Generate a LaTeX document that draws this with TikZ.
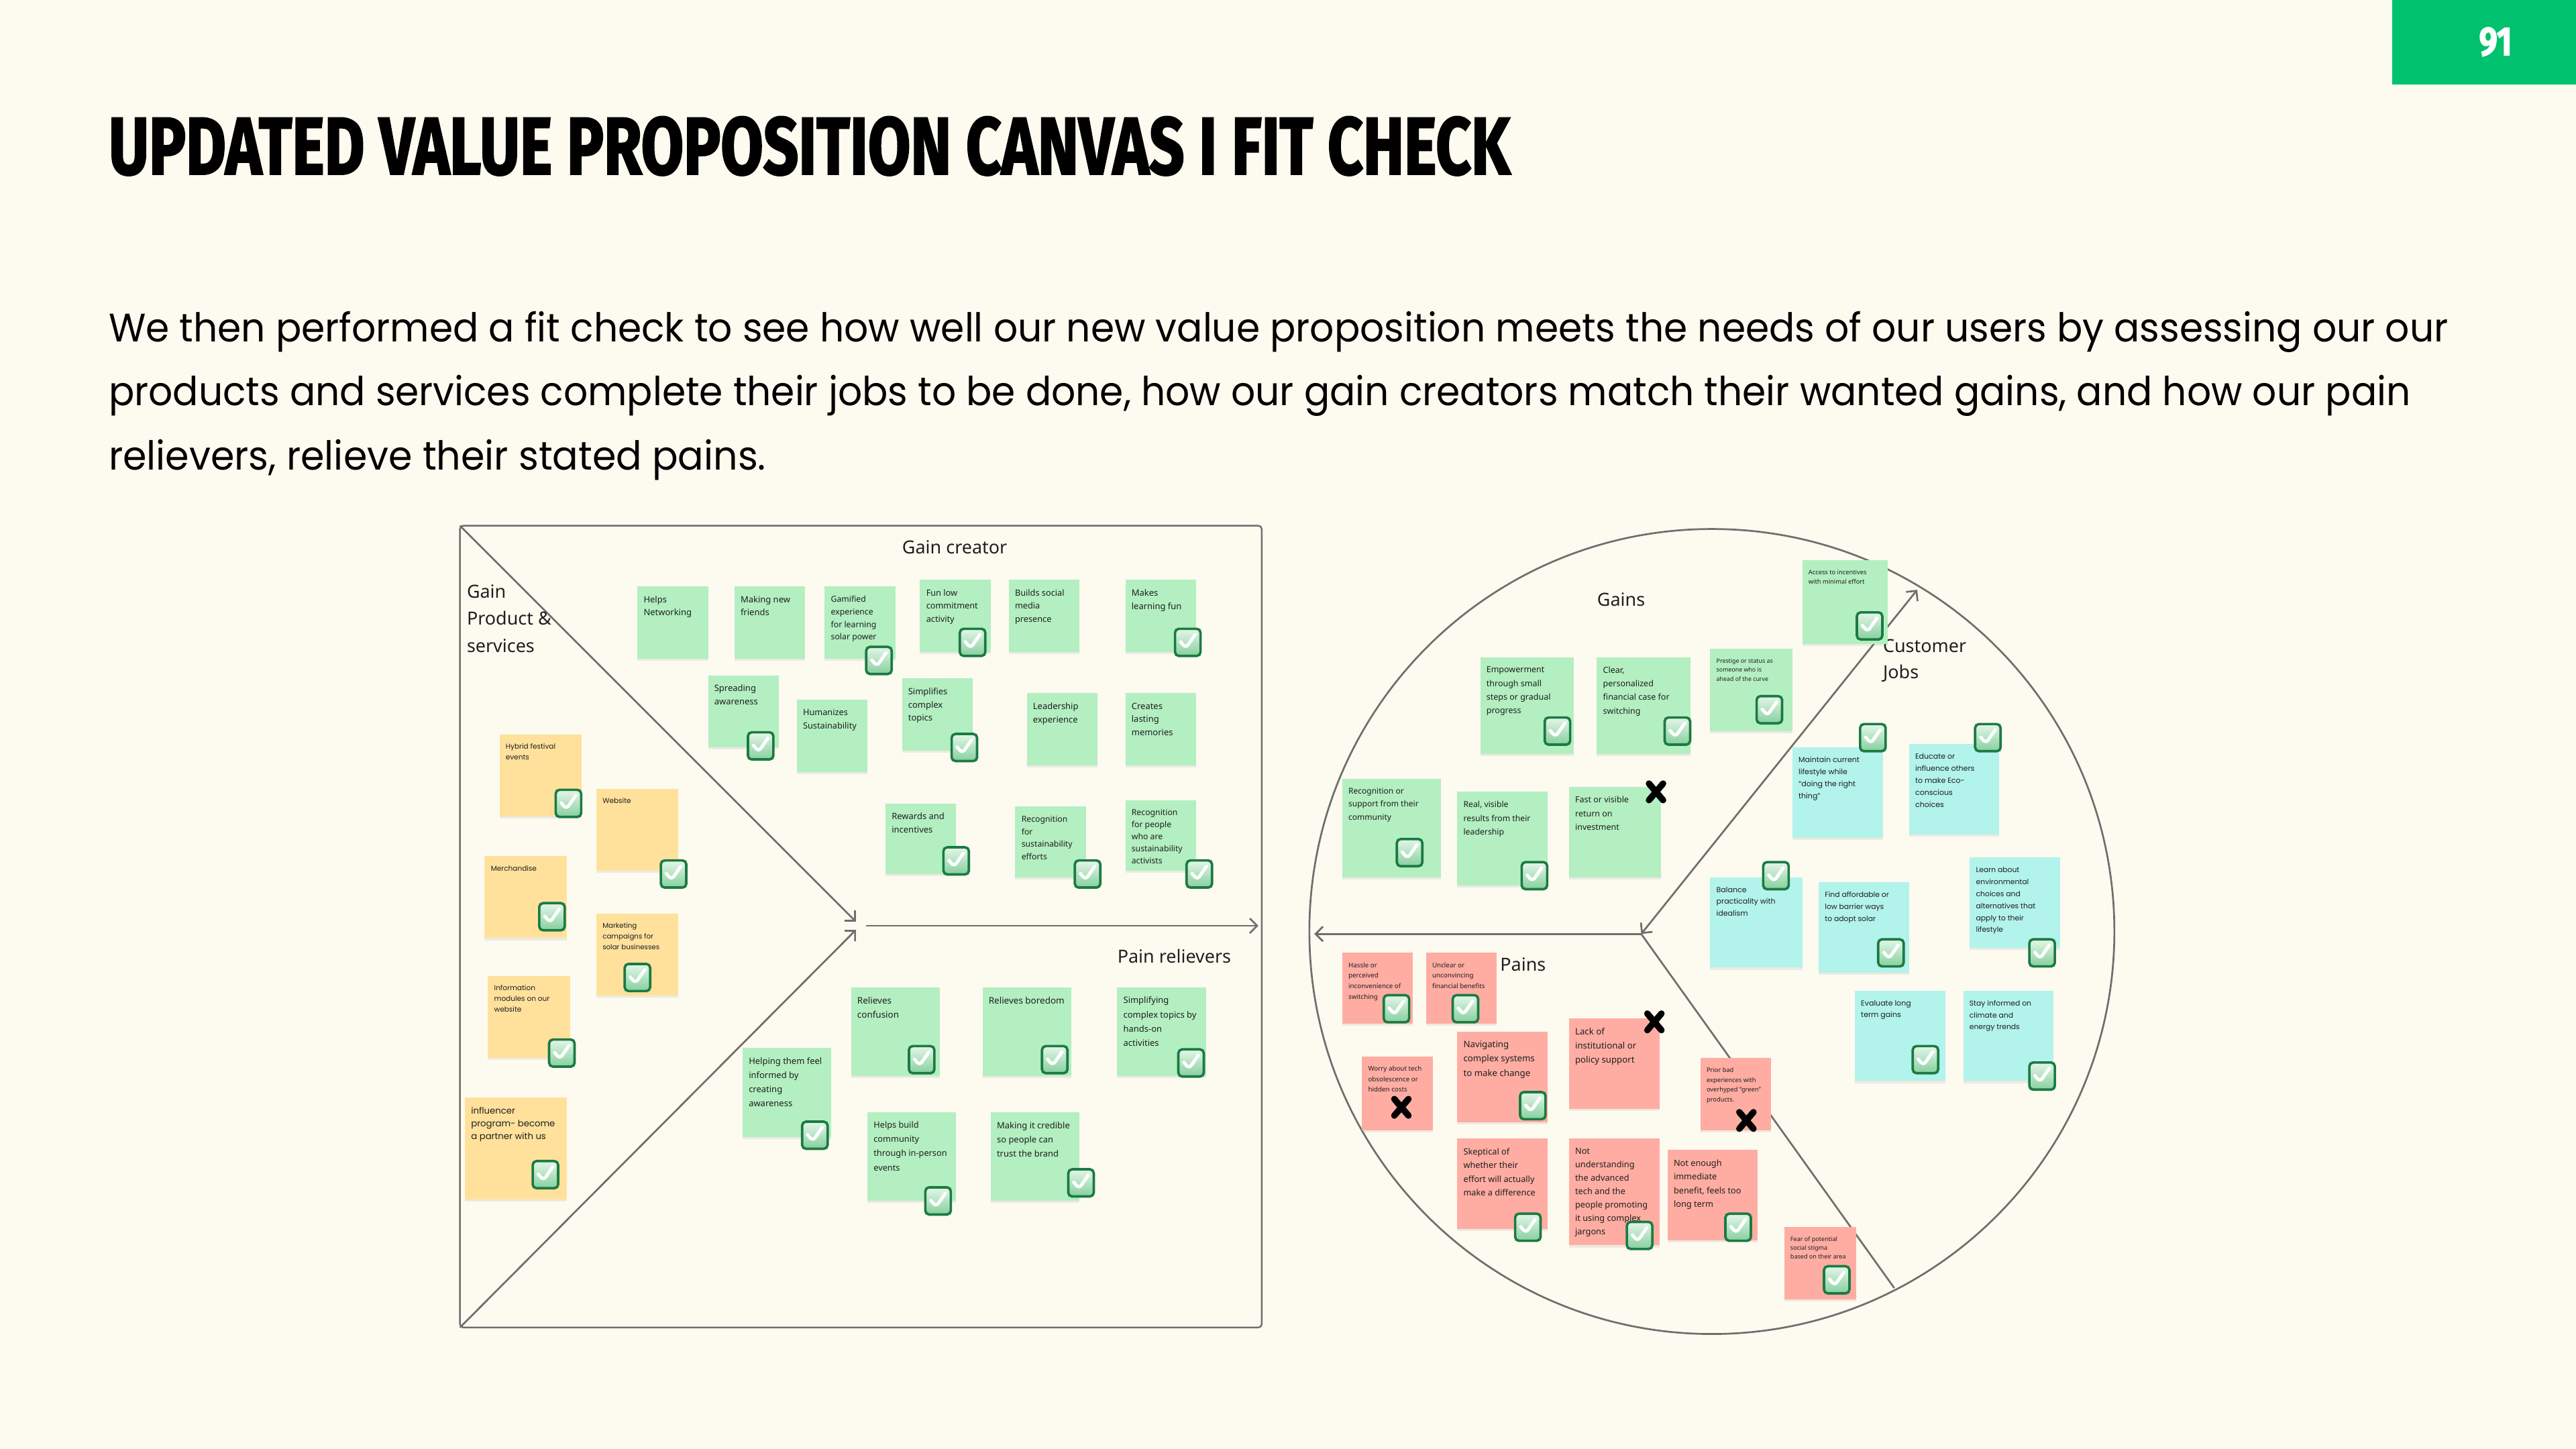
\documentclass[tikz,border=0pt]{standalone}
\usepackage{fontspec}
\usepackage{graphicx}
\usetikzlibrary{arrows.meta,shadows,calc}
\setmainfont{Noto Sans}
\newfontfamily\geo{Poppins}
\newfontfamily\titlef[FakeBold=2.2]{Fira Sans}
\definecolor{bg}{HTML}{FDFAF0}
\definecolor{pagegreen}{HTML}{00C26E}
\definecolor{lineg}{HTML}{6E6E6E}
\definecolor{gn}{HTML}{B3EFC1}
\definecolor{yl}{HTML}{FFE19C}
\definecolor{cy}{HTML}{B2F3EC}
\definecolor{sa}{HTML}{FFADA3}
\definecolor{notetext}{HTML}{1E1E1E}
\definecolor{ckdark}{HTML}{1B7A43}
\definecolor{cklight}{HTML}{E4F6E8}
\definecolor{ckmid}{HTML}{86D09E}
\newcommand{\fs}[2]{\fontsize{#1}{#2}\selectfont}
\tikzset{
  conn/.style={draw=lineg, line width=1.1pt},
  tipx/.tip={Straight Barb[length=4.5pt,width=9pt]},
  notebox/.style={anchor=north west, inner sep=0pt, outer sep=0pt,
    drop shadow={shadow xshift=0pt, shadow yshift=-1.3pt, opacity=0.13}},
  notetxt/.style={anchor=north west, inner sep=0pt, align=left, text=notetext},
  lbl/.style={anchor=base west, inner sep=0pt, text=black!88, font=\fs{11}{13}},
  chk/.style={minimum width=15.5pt, minimum height=16.5pt, inner sep=0pt,
    rounded corners=2.3pt, draw=ckdark, line width=1.5pt,
    top color=cklight, bottom color=ckmid,
    path picture={
      \draw[white, line width=2pt, line cap=round, line join=round]
        ([shift={(-4.4pt,0.3pt)}]path picture bounding box.center) --
        ([shift={(-1.2pt,-3.4pt)}]path picture bounding box.center) --
        ([shift={(4.4pt,4.7pt)}]path picture bounding box.center);}},
  xmk/.style={minimum width=13pt, minimum height=14.5pt, inner sep=0pt,
    path picture={
      \draw[black, line width=3.9pt, line cap=round]
        ([shift={(2.2pt,-2.2pt)}]path picture bounding box.north west) --
        ([shift={(-2.2pt,2.2pt)}]path picture bounding box.south east)
        ([shift={(-2.2pt,-2.2pt)}]path picture bounding box.north east) --
        ([shift={(2.2pt,2.2pt)}]path picture bounding box.south west);}}
}
\newcommand{\stk}[8]{%
  \node[notebox, fill=#6, minimum width=#4pt, minimum height=#5pt] (#1) at (#2,#3) {};
  \node[notetxt, font=#7] (#1t) at ([shift={(3.6pt,-5.6pt)}]#1.north west) {#8};}
\begin{document}
\begin{tikzpicture}[x=1pt,y=-1pt]
\useasboundingbox (0,0) rectangle (1568,882);
\fill[bg] (0,0) rectangle (1568,882);
% page number
\node[fill=pagegreen, minimum width=112pt, minimum height=51.5pt, inner sep=0pt, outer sep=0pt, anchor=north west] (pg) at (1456,0) {};
\node[text=white, inner sep=0pt] (pgn) at (1519,25.5) {\resizebox{20pt}{17pt}{\titlef\bfseries 91}};
% title and text
\node[anchor=base west, inner sep=0pt] (title) at (66,106) {\resizebox{853pt}{35pt}{\titlef\bfseries UPDATED VALUE PROPOSITION CANVAS I FIT CHECK}};
\node[anchor=base west, inner sep=0pt] (b1) at (66,208) {\resizebox{1424pt}{18.5pt}{\geo We then performed a fit check to see how well our new value proposition meets the needs of our users by assessing our our}};
\node[anchor=base west, inner sep=0pt] (b2) at (66,247) {\resizebox{1401pt}{18.5pt}{\geo products and services complete their jobs to be done, how our gain creators match their wanted gains, and how our pain}};
\node[anchor=base west, inner sep=0pt] (b3) at (66,286) {\resizebox{400pt}{18.5pt}{\geo relievers, relieve their stated pains.}};

% ===== value map (square) =====
\node[draw=lineg, line width=1pt, rounded corners=2pt, minimum width=488pt, minimum height=488pt, inner sep=0pt, outer sep=0pt] (sq) at (524,564) {};
\coordinate (tipA) at (521,561);
\coordinate (tipB) at (521,566);
\coordinate (hs) at (527,563.5);
\coordinate (he) at (766,563.5);
\draw[conn,-{tipx}] (sq.north west) -- (tipA);
\draw[conn,-{tipx}] (sq.south west) -- (tipB);
\draw[conn,-{tipx}] (hs) -- (he);
\node[lbl] (lgc) at (549,337) {Gain creator};
\node[lbl] (lg1) at (284,364) {Gain};
\node[lbl] (lg2) at (284,380.5) {Product \&};
\node[lbl] (lg3) at (284,397) {services};
\node[lbl] (lpr) at (680,586) {Pain relievers};

% gain creators
\stk{n1}{388}{357}{43}{44}{gn}{\fs{5.3}{8}}{Helps\\Networking}
\stk{n2}{447}{357}{43}{44}{gn}{\fs{5.3}{8}}{Making new\\friends}
\stk{n3}{502}{357}{43}{44}{gn}{\fs{5}{7.6}}{Gamified\\experience\\for learning\\solar power}
\stk{n4}{560}{353}{43}{44}{gn}{\fs{5.2}{8}}{Fun low\\commitment\\activity}
\stk{n5}{614}{353}{43}{44}{gn}{\fs{5.2}{8}}{Builds social\\media\\presence}
\stk{n6}{685}{353}{43}{44}{gn}{\fs{5.3}{8}}{Makes\\learning fun}
\stk{n7}{431}{411}{43}{44}{gn}{\fs{5.3}{8}}{Spreading\\awareness}
\stk{n8}{485}{426}{43}{44}{gn}{\fs{5.2}{8}}{Humanizes\\Sustainability}
\stk{n9}{549}{413}{43}{44}{gn}{\fs{5.3}{8}}{Simplifies\\complex\\topics}
\stk{n10}{625}{422}{43}{44}{gn}{\fs{5.3}{8}}{Leadership\\experience}
\stk{n11}{685}{422}{43}{44}{gn}{\fs{5.3}{8}}{Creates\\lasting\\memories}
\stk{n12}{539}{489}{43}{43}{gn}{\fs{5.3}{8}}{Rewards and\\incentives}
\stk{n13}{618}{491}{43}{43}{gn}{\fs{5}{7.6}}{Recognition\\for\\sustainability\\efforts}
\stk{n14}{685}{487}{43}{43}{gn}{\fs{5}{7.3}}{Recognition\\for people\\who are\\sustainability\\activists}
% pain relievers
\stk{r1}{518}{601}{54}{54}{gn}{\fs{5.5}{8.6}}{Relieves\\confusion}
\stk{r2}{598}{601}{54}{54}{gn}{\fs{5.5}{8.6}}{Relieves boredom}
\stk{r3}{680}{601}{54}{54}{gn}{\fs{5.3}{8.6}}{Simplifying\\complex topics by\\hands-on\\activities}
\stk{r4}{452}{638}{54}{54}{gn}{\fs{5.3}{8.6}}{Helping them feel\\informed by\\creating\\awareness}
\stk{r5}{528}{677}{54}{54}{gn}{\fs{5.2}{8.6}}{Helps build\\community\\through in-person\\events}
\stk{r6}{603}{677}{54}{54}{gn}{\fs{5.3}{8.6}}{Making it credible\\so people can\\trust the brand}
% products & services
\stk{y1}{304}{447}{50}{50}{yl}{\geo\fs{4.3}{6.4}}{Hybrid festival\\events}
\stk{y2}{363}{480}{50}{50}{yl}{\geo\fs{4.3}{6.4}}{Website}
\stk{y3}{295}{521}{50}{50}{yl}{\geo\fs{4.3}{6.4}}{Merchandise}
\stk{y4}{363}{556}{50}{50}{yl}{\geo\fs{4.2}{6.4}}{Marketing\\campaigns for\\solar businesses}
\stk{y5}{297}{594}{50}{50}{yl}{\geo\fs{4.3}{6.4}}{Information\\modules on our\\website}
\stk{y6}{283}{668}{62}{62}{yl}{\geo\fs{5.4}{7.8}}{influencer\\program- become\\a partner with us}

% checks (value map)
\node[chk] (k3) at (535,402) {};
\node[chk] (k4) at (592,391) {};
\node[chk] (k6) at (723,391) {};
\node[chk] (k7) at (463,454) {};
\node[chk] (k9) at (587,455) {};
\node[chk] (k12) at (582,524) {};
\node[chk] (k13) at (662,532) {};
\node[chk] (k14) at (730,532) {};
\node[chk] (kr1) at (561,645) {};
\node[chk] (kr2) at (642,645) {};
\node[chk] (kr3) at (725,647) {};
\node[chk] (kr4) at (496,691) {};
\node[chk] (kr5) at (571,731) {};
\node[chk] (kr6) at (658,720) {};
\node[chk] (ky1) at (346,489) {};
\node[chk] (ky2) at (410,532) {};
\node[chk] (ky3) at (336,558) {};
\node[chk] (ky4) at (388,595) {};
\node[chk] (ky5) at (342,641) {};
\node[chk] (ky6) at (332,715) {};

% ===== customer profile (circle) =====
\node[circle, draw=lineg, line width=1.1pt, minimum size=490pt, inner sep=0pt, outer sep=0pt] (circ) at (1042,567) {};
\coordinate (J) at (999,568.5);
\coordinate (cW) at (800,568.5);
\coordinate (cUR) at (1167,359);
\coordinate (cLR) at (1153,784);
\draw[conn,-{tipx}] (J) -- (cW);
\draw[conn,{tipx}-{tipx}] (J) -- (cUR);
\draw[conn] (J) -- (cLR);
\node[lbl] (lgains) at (972,369) {Gains};
\node[lbl] (lcj1) at (1146,397) {Customer};
\node[lbl] (lcj2) at (1146,413) {Jobs};
\node[lbl] (lpains) at (913,591) {Pains};

% gains
\stk{g1}{1097}{341}{52}{51}{gn}{\fs{3.8}{5.8}}{Access to incentives\\with minimal effort}
\stk{g2}{1041}{395}{50}{50}{gn}{\fs{3.6}{5.6}}{Prestige or status as\\someone who is\\ahead of the curve}
\stk{g3}{901}{400}{57}{59}{gn}{\fs{5.1}{8.3}}{Empowerment\\through small\\steps or gradual\\progress}
\stk{g4}{972}{400}{57}{59}{gn}{\fs{5.1}{8.3}}{Clear,\\personalized\\financial case for\\switching}
\stk{g5}{817}{474}{60}{60}{gn}{\fs{4.9}{7.8}}{Recognition or\\support from their\\community}
\stk{g6}{887}{482}{55}{57}{gn}{\fs{5}{8.3}}{Real, visible\\results from their\\leadership}
\stk{g7}{955}{479}{56}{55}{gn}{\fs{5.1}{8.3}}{Fast or visible\\return on\\investment}
% customer jobs
\stk{c1}{1091}{455}{55}{55}{cy}{\geo\fs{4.5}{7.3}}{Maintain current\\lifestyle while\\“doing the right\\thing”}
\stk{c2}{1162}{453}{55}{55}{cy}{\geo\fs{4.5}{7.3}}{Educate or\\influence others\\to make Eco-\\conscious\\choices}
\stk{c3}{1041}{534}{56}{55}{cy}{\geo\fs{4.5}{7.3}}{Balance\\practicality with\\idealism}
\stk{c4}{1107}{537}{55}{55}{cy}{\geo\fs{4.4}{7.3}}{Find affordable or\\low barrier ways\\to adopt solar}
\stk{c5}{1199}{522}{55}{55}{cy}{\geo\fs{4.4}{7.3}}{Learn about\\environmental\\choices and\\alternatives that\\apply to their\\lifestyle}
\stk{c6}{1129}{603}{55}{55}{cy}{\geo\fs{4.5}{7.3}}{Evaluate long\\term gains}
\stk{c7}{1195}{603}{55}{55}{cy}{\geo\fs{4.4}{7.3}}{Stay informed on\\climate and\\energy trends}
% pains
\stk{p1}{817}{580}{43}{43}{sa}{\fs{4}{6.4}}{Hassle or\\perceived\\inconvenience of\\switching}
\stk{p2}{868}{580}{43}{43}{sa}{\fs{4}{6.4}}{Unclear or\\unconvincing\\financial benefits}
\stk{p3}{829}{643}{43}{45}{sa}{\fs{4}{6.4}}{Worry about tech\\obsolescence or\\hidden costs}
\stk{p4}{887}{628}{55}{55}{sa}{\fs{5.4}{8.6}}{Navigating\\complex systems\\to make change}
\stk{p5}{955}{620}{55}{55}{sa}{\fs{5.4}{8.6}}{Lack of\\institutional or\\policy support}
\stk{p6}{1035}{644}{43}{44}{sa}{\fs{3.8}{6}}{Prior bad\\experiences with\\overhyped "green"\\products.}
\stk{p7}{887}{693}{55}{55}{sa}{\fs{5.2}{8.4}}{Skeptical of\\whether their\\effort will actually\\make a difference}
\stk{p8}{955}{693}{55}{65}{sa}{\fs{5.2}{8.2}}{Not\\understanding\\the advanced\\tech and the\\people promoting\\it using complex\\jargons}
\stk{p9}{1015}{700}{55}{55}{sa}{\fs{5.2}{8.4}}{Not enough\\immediate\\benefit, feels too\\long term}
\stk{p10}{1086}{747}{44}{44}{sa}{\fs{3.7}{5.2}}{Fear of potential\\social stigma\\based on their area}

% checks and crosses (customer profile)
\node[chk] (kg1) at (1138,381) {};
\node[chk] (kg2) at (1077,432) {};
\node[chk] (kg3) at (948,445) {};
\node[chk] (kg4) at (1021,445) {};
\node[chk] (kg5) at (858,519) {};
\node[chk] (kg6) at (934,533) {};
\node[xmk] (xg7) at (1008,482) {};
\node[chk] (kc1) at (1140,449) {};
\node[chk] (kc2) at (1210,449) {};
\node[chk] (kc3) at (1081,533) {};
\node[chk] (kc4) at (1151,580) {};
\node[chk] (kc5) at (1243,580) {};
\node[chk] (kc6) at (1172,645) {};
\node[chk] (kc7) at (1243,655) {};
\node[chk] (kp1) at (850,614) {};
\node[chk] (kp2) at (892,614) {};
\node[xmk] (xp3) at (853,674) {};
\node[chk] (kp4) at (933,673) {};
\node[xmk] (xp5) at (1007,622) {};
\node[xmk] (xp6) at (1063,682) {};
\node[chk] (kp7) at (930,747) {};
\node[chk] (kp8) at (998,752) {};
\node[chk] (kp9) at (1058,747) {};
\node[chk] (kp10) at (1118,779) {};
\end{tikzpicture}
\end{document}
